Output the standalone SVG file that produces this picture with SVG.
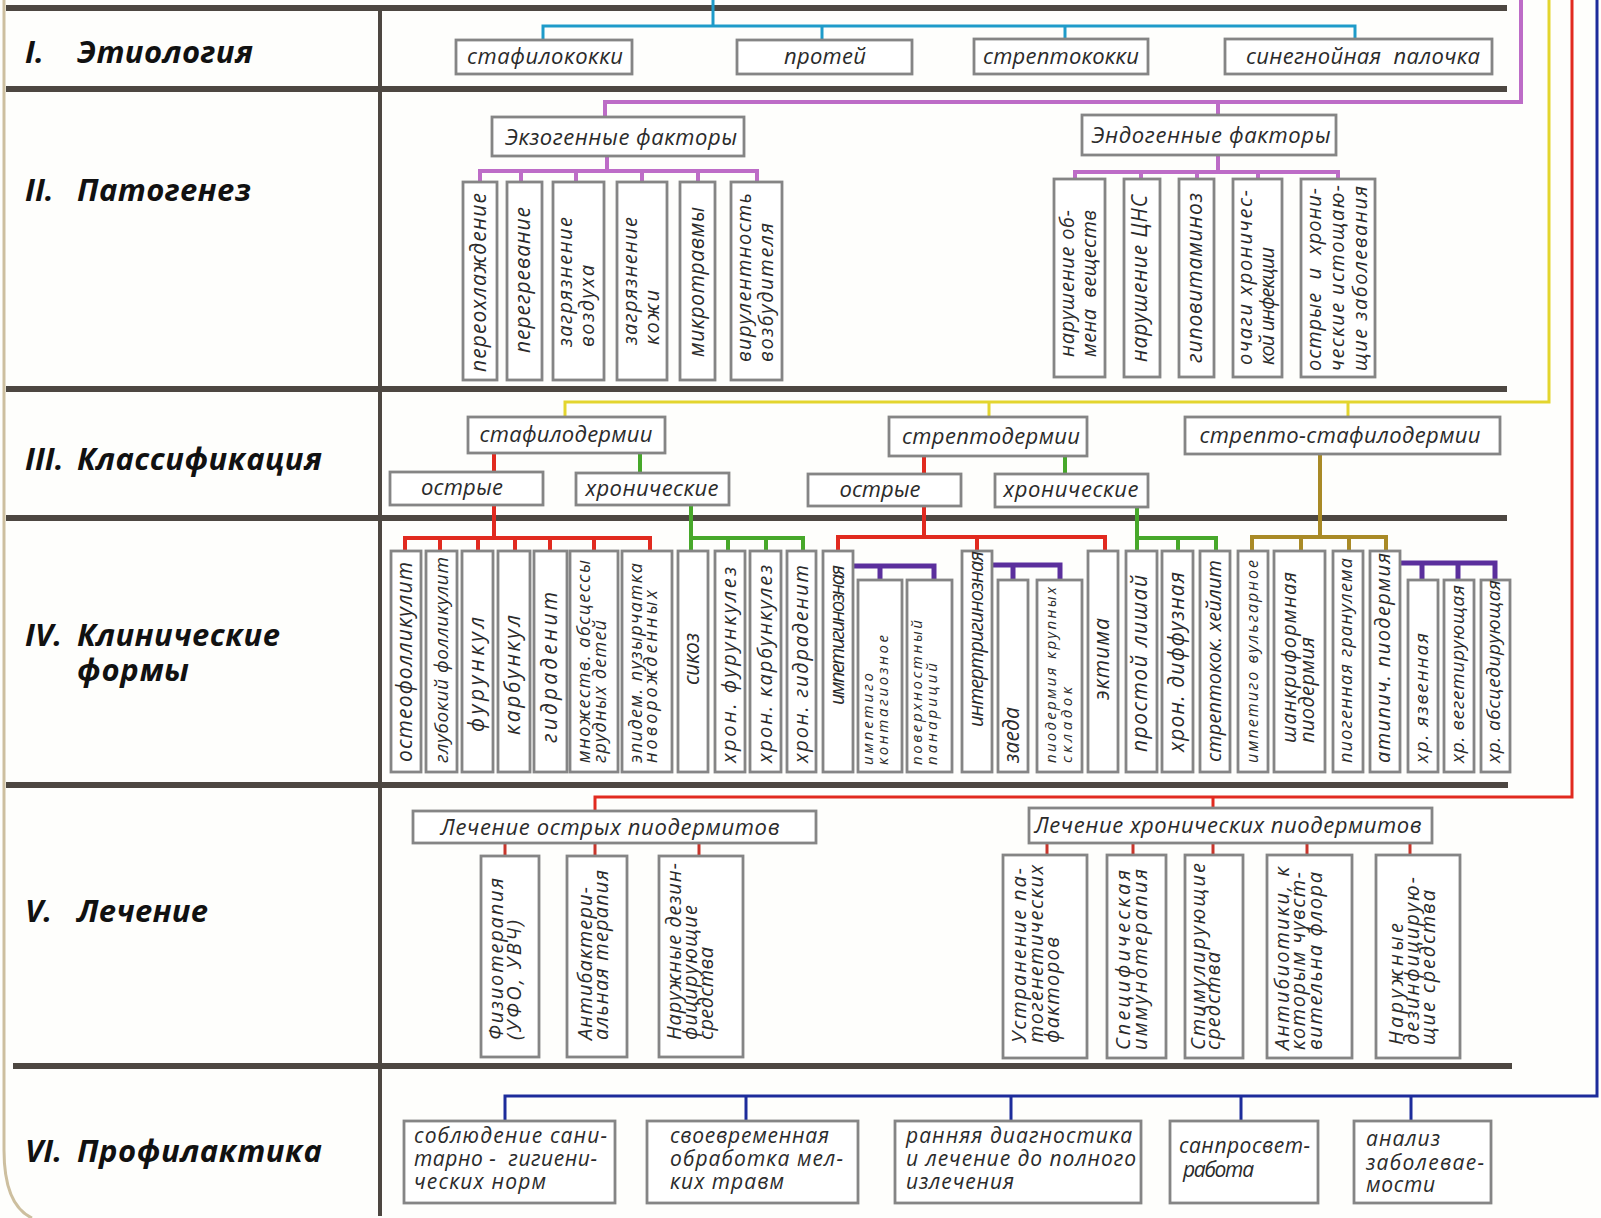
<svg xmlns="http://www.w3.org/2000/svg" width="1601" height="1218" viewBox="0 0 1601 1218">
<style>
.bg{fill:#fefefc}
.rule{stroke:#4d4741;stroke-width:6;fill:none}
.vrule{stroke:#4d4741;stroke-width:4;fill:none}
.frame{stroke:#cdbf9f;stroke-width:3;fill:none}
.box{fill:#fff;stroke:#858585;stroke-width:2.8}
.t{font-family:"Open Sans","Noto Sans","DejaVu Sans",sans-serif;font-style:italic;fill:#2b2b2b}
.h{font-family:"Open Sans","Noto Sans","DejaVu Sans",sans-serif;font-style:italic;font-weight:bold;fill:#111;font-size:31px}
.m{text-anchor:middle;font-size:22px}
.l{font-size:21px}
.cy{stroke:#1e9bc9;stroke-width:3;fill:none}
.pu{stroke:#bd6cc7;stroke-width:4;fill:none}
.ye{stroke:#e3d52e;stroke-width:3;fill:none}
.re{stroke:#e12a1f;stroke-width:3;fill:none}
.re4{stroke:#e12a1f;stroke-width:4;fill:none}
.dr{stroke:#c8352b;stroke-width:3;fill:none}
.gr{stroke:#47a82a;stroke-width:4;fill:none}
.ol{stroke:#a98a26;stroke-width:4;fill:none}
.vi{stroke:#5b2f9d;stroke-width:5;fill:none}
.bl{stroke:#1d2c9b;stroke-width:3;fill:none}
</style>
<rect class="bg" x="0" y="0" width="1601" height="1218"/>
<path class="frame" d="M4 0 V1150 Q4 1205 32 1218"/>
<g id="rules">
<path class="rule" d="M6 8 H1507 M6 89 H1507 M6 389 H1507 M6 518 H1507 M6 785 H1508 M13 1066 H1512"/>
<path class="vrule" d="M380 8 V1216"/>
</g>
<g id="headers">
<text class="h" x="25" y="63">I.</text><text class="h" x="77" y="63" textLength="176">Этиология</text>
<text class="h" x="25" y="201">II.</text><text class="h" x="77" y="201" textLength="174">Патогенез</text>
<text class="h" x="25" y="470">III.</text><text class="h" x="77" y="470" textLength="245">Классификация</text>
<text class="h" x="25" y="646">IV.</text><text class="h" x="77" y="646" textLength="203">Клинические</text>
<text class="h" x="77" y="681" textLength="112">формы</text>
<text class="h" x="25" y="922">V.</text><text class="h" x="77" y="922" textLength="131">Лечение</text>
<text class="h" x="25" y="1162">VI.</text><text class="h" x="77" y="1162" textLength="245">Профилактика</text>
</g>
<g id="connectors">
<path class="cy" d="M713 0 V26 M543 40 V26 H1355 V39 M822 26 V40 M1065 26 V39"/>
<path class="pu" d="M1521 0 V102 H605 V117 M1218 102 V115"/>
<path class="pu" d="M607 156 V171 M480 182 V171 H757 V182 M521 171 V182 M576 171 V182 M642 171 V182 M698 171 V182"/>
<path class="pu" d="M1218 155 V172 M1075 179 V172 H1338 V179 M1141 172 V179 M1197 172 V179 M1258 172 V179"/>
<path class="ye" d="M1549 0 V402 H565 V417 M989 402 V417 M1348 402 V417"/>
<path class="re4" d="M494 453 V472 M494 505 V538 M405 552 V538 H650 V552 M440 538 V552 M478 538 V552 M515 538 V552 M550 538 V552 M594 538 V552"/>
<path class="gr" d="M640 453 V473 M691 505 V552 M691 538 H803 V552 M728 538 V552 M766 538 V552"/>
<path class="re4" d="M924 456 V474 M924 506 V537 M838 552 V537 H1105 V552 M977 537 V552"/>
<path class="gr" d="M1065 456 V474 M1137 507 V552 M1137 538 H1216 V552 M1178 538 V552"/>
<path class="ol" d="M1320 454 V537 M1252 552 V537 H1386 V552 M1301 537 V552 M1349 537 V552"/>
<path class="vi" d="M853 566 H934 V580 M880 566 V580 M992 565 H1060 V580 M1013 565 V580 M1400 563 H1495 V580 M1422 563 V580 M1458 563 V580"/>
<path class="re" d="M1572 0 V797 H595 V811 M1213 797 V808"/>
<path class="dr" d="M505 843 V856 M595 843 V856 M699 843 V856 M1047 843 V855 M1133 843 V855 M1213 843 V855 M1307 843 V855 M1410 843 V855"/>
<path class="bl" d="M1597 0 V1096 H505 V1121 M746 1096 V1121 M1011 1096 V1121 M1241 1096 V1121 M1411 1096 V1121"/>
</g>
<g id="n-staph"><rect class="box" x="456" y="40" width="176" height="34"/><text class="t m" x="545" y="64" textLength="156">стафилококки</text></g>
<g id="n-proteus"><rect class="box" x="737" y="40" width="175" height="34"/><text class="t m" x="825" y="64" textLength="82">протей</text></g>
<g id="n-strep"><rect class="box" x="974" y="39" width="174" height="35"/><text class="t m" x="1061" y="64" textLength="156">стрептококки</text></g>
<g id="n-pseudo"><rect class="box" x="1225" y="39" width="267" height="35"/><text class="t m" x="1363" y="64" textLength="234" xml:space="preserve">синегнойная  палочка</text></g>
<g id="n-exo"><rect class="box" x="492" y="117" width="252" height="39"/><text class="t m" x="621" y="145" textLength="232">Экзогенные факторы</text></g>
<g id="n-endo"><rect class="box" x="1082" y="115" width="254" height="40"/><text class="t m" x="1211" y="143" textLength="239">Эндогенные факторы</text></g>
<g id="n-exo1"><rect class="box" x="463" y="182" width="34" height="198"/><text class="t" font-size="21" textLength="179" transform="translate(486 372) rotate(-90)">переохлаждение</text></g>
<g id="n-exo2"><rect class="box" x="507" y="182" width="35" height="198"/><text class="t" font-size="21" textLength="146" transform="translate(530 353) rotate(-90)">перегревание</text></g>
<g id="n-exo3"><rect class="box" x="553" y="182" width="51" height="198"/><text class="t" font-size="20" textLength="130" transform="translate(571.5 347) rotate(-90)">загрязнение</text><text class="t" font-size="20" textLength="82" transform="translate(593.5 347) rotate(-90)">воздуха</text></g>
<g id="n-exo4"><rect class="box" x="617" y="182" width="50" height="198"/><text class="t" font-size="20" textLength="128" transform="translate(636.5 345) rotate(-90)">загрязнение</text><text class="t" font-size="20" textLength="55" transform="translate(658.5 345) rotate(-90)">кожи</text></g>
<g id="n-exo5"><rect class="box" x="680" y="182" width="35" height="198"/><text class="t" font-size="21" textLength="150" transform="translate(704 357) rotate(-90)">микротравмы</text></g>
<g id="n-exo6"><rect class="box" x="731" y="182" width="51" height="198"/><text class="t" font-size="20" textLength="169" transform="translate(750.5 362) rotate(-90)">вирулентность</text><text class="t" font-size="20" textLength="139" transform="translate(772.5 362) rotate(-90)">возбудителя</text></g>
<g id="n-endo1"><rect class="box" x="1054" y="179" width="51" height="198"/><text class="t" font-size="20" textLength="147" transform="translate(1073.5 357) rotate(-90)">нарушение об-</text><text class="t" font-size="20" textLength="147" transform="translate(1095.5 357) rotate(-90)" xml:space="preserve">мена  веществ</text></g>
<g id="n-endo2"><rect class="box" x="1124" y="179" width="36" height="198"/><text class="t" font-size="21" textLength="167" transform="translate(1147 362) rotate(-90)">нарушение ЦНС</text></g>
<g id="n-endo3"><rect class="box" x="1179" y="179" width="35" height="198"/><text class="t" font-size="21" textLength="170" transform="translate(1202 363) rotate(-90)">гиповитаминоз</text></g>
<g id="n-endo4"><rect class="box" x="1233" y="179" width="49" height="198"/><text class="t" font-size="20" textLength="175" transform="translate(1251.5 365) rotate(-90)">очаги хроничес-</text><text class="t" font-size="20" textLength="118" transform="translate(1273.5 365) rotate(-90)">кой инфекции</text></g>
<g id="n-endo5"><rect class="box" x="1301" y="179" width="74" height="198"/><text class="t" font-size="20" textLength="183" transform="translate(1320.5 371) rotate(-90)" xml:space="preserve">острые  и  хрони-</text><text class="t" font-size="20" textLength="186" transform="translate(1343.5 371) rotate(-90)">ческие истощаю-</text><text class="t" font-size="20" textLength="185" transform="translate(1366.5 371) rotate(-90)">щие заболевания</text></g>
<g id="n-staphderm"><rect class="box" x="468" y="417" width="197" height="36"/><text class="t m" x="566" y="442" textLength="173">стафилодермии</text></g>
<g id="n-acute1"><rect class="box" x="390" y="472" width="153" height="33"/><text class="t m" x="462" y="495" textLength="82">острые</text></g>
<g id="n-chronic1"><rect class="box" x="576" y="473" width="153" height="32"/><text class="t m" x="652" y="496" textLength="133">хронические</text></g>
<g id="n-strepderm"><rect class="box" x="889" y="417" width="198" height="39"/><text class="t m" x="991" y="444" textLength="178">стрептодермии</text></g>
<g id="n-acute2"><rect class="box" x="808" y="474" width="153" height="32"/><text class="t m" x="880" y="497" textLength="81">острые</text></g>
<g id="n-chronic2"><rect class="box" x="995" y="474" width="153" height="33"/><text class="t m" x="1071" y="497" textLength="135">хронические</text></g>
<g id="n-streptostaph"><rect class="box" x="1185" y="417" width="315" height="37"/><text class="t m" x="1340" y="443" textLength="281">стрепто-стафилодермии</text></g>
<g id="n-f1"><rect class="box" x="391" y="551" width="30" height="221"/><text class="t" font-size="21" textLength="200" transform="translate(412 762) rotate(-90)">остеофолликулит</text></g>
<g id="n-f2"><rect class="box" x="426" y="551" width="31" height="221"/><text class="t" font-size="19" textLength="206" transform="translate(447.5 763) rotate(-90)">глубокий фолликулит</text></g>
<g id="n-f3"><rect class="box" x="462" y="551" width="31" height="221"/><text class="t" font-size="21" textLength="115" transform="translate(484 732) rotate(-90)">фурункул</text></g>
<g id="n-f4"><rect class="box" x="498" y="551" width="32" height="221"/><text class="t" font-size="21" textLength="120" transform="translate(520 735) rotate(-90)">карбункул</text></g>
<g id="n-f5"><rect class="box" x="534" y="551" width="33" height="221"/><text class="t" font-size="21" textLength="151" transform="translate(557 743) rotate(-90)">гидраденит</text></g>
<g id="n-f6"><rect class="box" x="570" y="551" width="48" height="221"/><text class="t" font-size="18" textLength="203" transform="translate(590 763) rotate(-90)">множеств. абсцессы</text><text class="t" font-size="18" textLength="143" transform="translate(606 763) rotate(-90)">грудных детей</text></g>
<g id="n-f7"><rect class="box" x="622" y="551" width="50" height="221"/><text class="t" font-size="18" textLength="200" transform="translate(642 763) rotate(-90)">эпидем. пузырчатка</text><text class="t" font-size="18" textLength="173" transform="translate(657 763) rotate(-90)">новорожденных</text></g>
<g id="n-f8"><rect class="box" x="678" y="551" width="30" height="221"/><text class="t" font-size="21" textLength="52" transform="translate(699 685) rotate(-90)">сикоз</text></g>
<g id="n-f9"><rect class="box" x="715" y="551" width="30" height="221"/><text class="t" font-size="20" textLength="196" transform="translate(735.5 763) rotate(-90)">хрон. фурункулез</text></g>
<g id="n-f10"><rect class="box" x="750" y="551" width="31" height="221"/><text class="t" font-size="20" textLength="198" transform="translate(771.5 763) rotate(-90)">хрон. карбункулез</text></g>
<g id="n-f11"><rect class="box" x="787" y="551" width="29" height="221"/><text class="t" font-size="20" textLength="198" transform="translate(807.5 763) rotate(-90)">хрон. гидраденит</text></g>
<g id="n-f12"><rect class="box" x="823" y="551" width="30" height="221"/><text class="t" font-size="20" textLength="140" transform="translate(843.5 705) rotate(-90)">импетигинозная</text></g>
<g id="n-f13"><rect class="box" x="858" y="580" width="44" height="192"/><text class="t" font-size="15" textLength="92" transform="translate(873.3 765) rotate(-90)">импетиго</text><text class="t" font-size="15" textLength="130" transform="translate(888.3 765) rotate(-90)">контагиозное</text></g>
<g id="n-f14"><rect class="box" x="907" y="580" width="45" height="192"/><text class="t" font-size="15" textLength="145" transform="translate(922.3 765) rotate(-90)">поверхностный</text><text class="t" font-size="15" textLength="102" transform="translate(937.3 765) rotate(-90)">панариций</text></g>
<g id="n-f15"><rect class="box" x="962" y="551" width="30" height="221"/><text class="t" font-size="20" textLength="176" transform="translate(982.5 727) rotate(-90)">интертригинозная</text></g>
<g id="n-f16"><rect class="box" x="998" y="580" width="30" height="192"/><text class="t" font-size="21" textLength="56" transform="translate(1019 763) rotate(-90)">заеда</text></g>
<g id="n-f17"><rect class="box" x="1037" y="580" width="45" height="192"/><text class="t" font-size="15" textLength="176" transform="translate(1056.3 763) rotate(-90)">пиодермия крупных</text><text class="t" font-size="15" textLength="76" transform="translate(1072.3 763) rotate(-90)">складок</text></g>
<g id="n-f18"><rect class="box" x="1088" y="551" width="30" height="221"/><text class="t" font-size="21" textLength="82" transform="translate(1109 700) rotate(-90)">эктима</text></g>
<g id="n-f19"><rect class="box" x="1126" y="551" width="31" height="221"/><text class="t" font-size="21" textLength="177" transform="translate(1147 752) rotate(-90)">простой лишай</text></g>
<g id="n-f20"><rect class="box" x="1162" y="551" width="31" height="221"/><text class="t" font-size="21" textLength="180" transform="translate(1184 752) rotate(-90)">хрон. диффузная</text></g>
<g id="n-f21"><rect class="box" x="1200" y="551" width="30" height="221"/><text class="t" font-size="20" textLength="202" transform="translate(1220.5 762) rotate(-90)">стрептокок. хейлит</text></g>
<g id="n-f22"><rect class="box" x="1238" y="551" width="30" height="221"/><text class="t" font-size="16" textLength="203" transform="translate(1257.5 763) rotate(-90)">импетиго вульгарное</text></g>
<g id="n-f23"><rect class="box" x="1274" y="551" width="51" height="221"/><text class="t" font-size="20" textLength="171" transform="translate(1295.5 743) rotate(-90)">шанкриформная</text><text class="t" font-size="20" textLength="106" transform="translate(1313.5 743) rotate(-90)">пиодермия</text></g>
<g id="n-f24"><rect class="box" x="1333" y="551" width="30" height="221"/><text class="t" font-size="18" textLength="205" transform="translate(1352 763) rotate(-90)">пиогенная гранулема</text></g>
<g id="n-f25"><rect class="box" x="1370" y="551" width="30" height="221"/><text class="t" font-size="20" textLength="210" transform="translate(1389.5 763) rotate(-90)">атипич. пиодермия</text></g>
<g id="n-f26"><rect class="box" x="1408" y="580" width="30" height="192"/><text class="t" font-size="19" textLength="130" transform="translate(1428.3 763) rotate(-90)">хр. язвенная</text></g>
<g id="n-f27"><rect class="box" x="1444" y="580" width="30" height="192"/><text class="t" font-size="19" textLength="178" transform="translate(1464.3 763) rotate(-90)">хр. вегетирующая</text></g>
<g id="n-f28"><rect class="box" x="1481" y="580" width="29" height="192"/><text class="t" font-size="19" textLength="183" transform="translate(1500.3 763) rotate(-90)">хр. абсцедирующая</text></g>
<g id="n-tx-acute"><rect class="box" x="413" y="811" width="403" height="32"/><text class="t m" x="610" y="835" textLength="339">Лечение острых пиодермитов</text></g>
<g id="n-tx-chronic"><rect class="box" x="1029" y="808" width="403" height="35"/><text class="t m" x="1228" y="833" textLength="387">Лечение хронических пиодермитов</text></g>
<g id="n-ta1"><rect class="box" x="481" y="856" width="58" height="201"/><text class="t" font-size="20" textLength="162" transform="translate(502.6 1040) rotate(-90)">Физиотерапия</text><text class="t" font-size="20" textLength="120" transform="translate(520.6 1040) rotate(-90)">(УФО, УВЧ)</text></g>
<g id="n-ta2"><rect class="box" x="567" y="856" width="60" height="201"/><text class="t" font-size="20" textLength="153" transform="translate(591.6 1040) rotate(-90)">Антибактери-</text><text class="t" font-size="20" textLength="170" transform="translate(607.6 1040) rotate(-90)">альная терапия</text></g>
<g id="n-ta3"><rect class="box" x="659" y="856" width="84" height="201"/><text class="t" font-size="20" textLength="177" transform="translate(680.6 1040) rotate(-90)">Наружные дезин-</text><text class="t" font-size="20" textLength="135" transform="translate(696.6 1040) rotate(-90)">фицирующие</text><text class="t" font-size="20" textLength="93" transform="translate(712.6 1040) rotate(-90)">средства</text></g>
<g id="n-tc1"><rect class="box" x="1003" y="855" width="84" height="203"/><text class="t" font-size="20" textLength="175" transform="translate(1025.6 1043) rotate(-90)">Устранение па-</text><text class="t" font-size="20" textLength="178" transform="translate(1042.6 1043) rotate(-90)">тогенетических</text><text class="t" font-size="20" textLength="106" transform="translate(1058.6 1043) rotate(-90)">факторов</text></g>
<g id="n-tc2"><rect class="box" x="1107" y="855" width="59" height="203"/><text class="t" font-size="20" textLength="180" transform="translate(1129.6 1050) rotate(-90)">Специфическая</text><text class="t" font-size="20" textLength="181" transform="translate(1146.6 1050) rotate(-90)">иммунотерапия</text></g>
<g id="n-tc3"><rect class="box" x="1185" y="855" width="58" height="203"/><text class="t" font-size="20" textLength="187" transform="translate(1204.6 1050) rotate(-90)">Стимулирующие</text><text class="t" font-size="20" textLength="98" transform="translate(1219.6 1050) rotate(-90)">средства</text></g>
<g id="n-tc4"><rect class="box" x="1267" y="855" width="85" height="203"/><text class="t" font-size="20" textLength="183" transform="translate(1288.6 1050) rotate(-90)">Антибиотики, к</text><text class="t" font-size="20" textLength="178" transform="translate(1304.6 1050) rotate(-90)">которым чувст-</text><text class="t" font-size="20" textLength="178" transform="translate(1321.6 1050) rotate(-90)">вительна флора</text></g>
<g id="n-tc5"><rect class="box" x="1376" y="855" width="84" height="203"/><text class="t" font-size="20" textLength="122" transform="translate(1402.6 1045) rotate(-90)">Наружные</text><text class="t" font-size="20" textLength="168" transform="translate(1418.6 1045) rotate(-90)">дезинфицирую-</text><text class="t" font-size="20" textLength="155" transform="translate(1434.6 1045) rotate(-90)">щие средства</text></g>
<g id="n-p1"><rect class="box" x="404" y="1121" width="211" height="82"/><text class="t l" x="414" y="1143" textLength="193">соблюдение сани-</text><text class="t l" x="414" y="1166" textLength="183" xml:space="preserve">тарно -  гигиени-</text><text class="t l" x="414" y="1189" textLength="132">ческих норм</text></g>
<g id="n-p2"><rect class="box" x="647" y="1121" width="211" height="82"/><text class="t l" x="670" y="1143" textLength="159">своевременная</text><text class="t l" x="670" y="1166" textLength="173">обработка мел-</text><text class="t l" x="670" y="1189" textLength="114">ких травм</text></g>
<g id="n-p3"><rect class="box" x="895" y="1121" width="246" height="82"/><text class="t l" x="906" y="1143" textLength="226">ранняя диагностика</text><text class="t l" x="906" y="1166" textLength="230">и лечение до полного</text><text class="t l" x="906" y="1189" textLength="108">излечения</text></g>
<g id="n-p4"><rect class="box" x="1170" y="1121" width="148" height="82"/><text class="t l" x="1179" y="1153" textLength="131">санпросвет-</text><text class="t l" x="1183" y="1177" textLength="71">работа</text></g>
<g id="n-p5"><rect class="box" x="1354" y="1121" width="137" height="82"/><text class="t l" x="1366" y="1146" textLength="74">анализ</text><text class="t l" x="1366" y="1170" textLength="118">заболевае-</text><text class="t l" x="1366" y="1192" textLength="69">мости</text></g>
</svg>
